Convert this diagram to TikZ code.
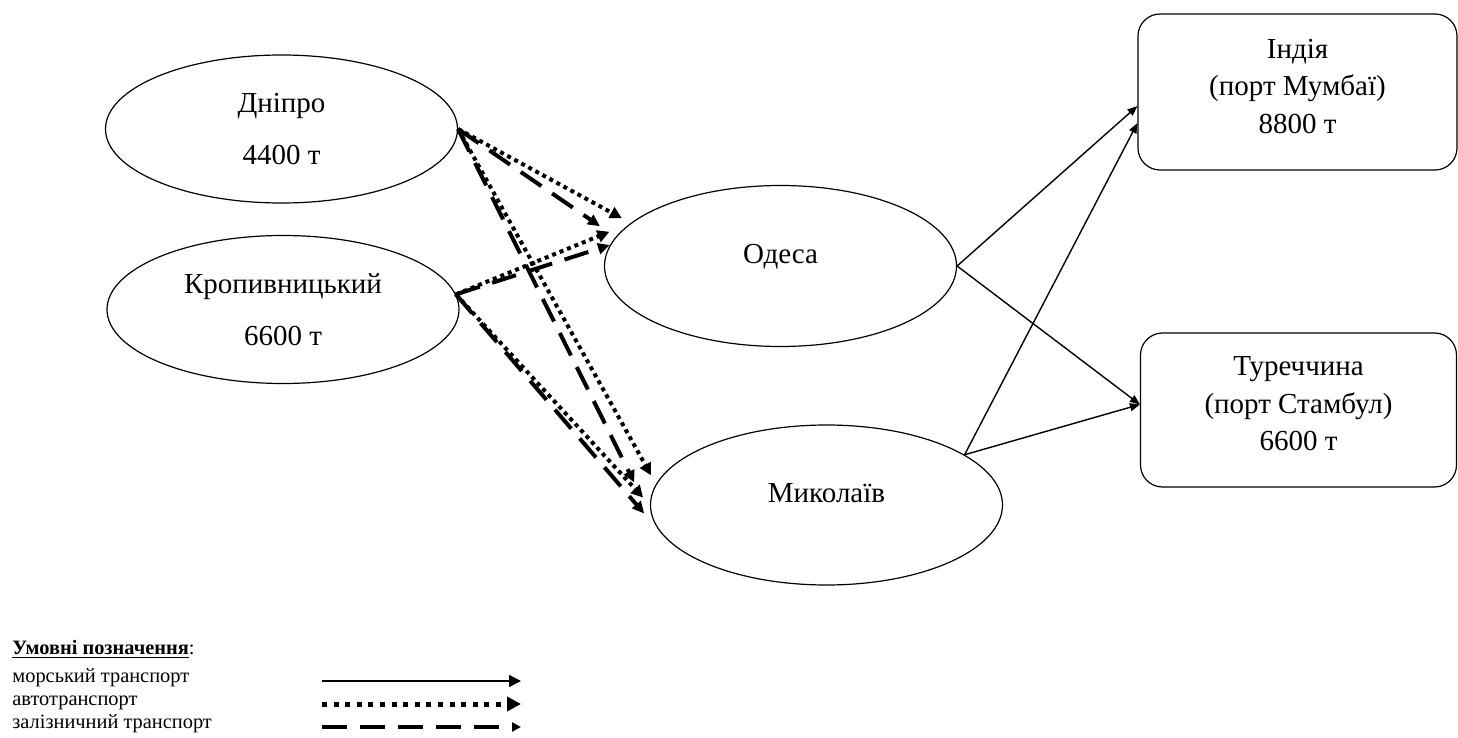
\documentclass[tikz,border=0pt]{standalone}
\usepackage{fontspec}
\setmainfont{Liberation Serif}
\usetikzlibrary{shapes.geometric, arrows.meta}
\tikzstyle{city} = [ellipse, draw=black, line width=0.6pt, minimum width=176pt, minimum height=74pt, align=center, font=\fontsize{14.5}{18.75}\selectfont]
\tikzstyle{port} = [rectangle, rounded corners=11pt, draw=black, line width=0.6pt, minimum width=158pt, minimum height=77pt, align=center, text depth=6pt, font=\fontsize{14.5}{18.75}\selectfont]
\tikzstyle{searoute} = [line width=0.7pt, -{Triangle[length=5pt,width=4pt]}]
\tikzstyle{autoroute} = [line width=2pt, dash pattern=on 2pt off 2pt, -{Triangle[length=6pt,width=6pt]}]
\tikzstyle{railroute} = [line width=2pt, dash pattern=on 12.5pt off 6.5pt, -{Triangle[length=6pt,width=5.5pt]}]
\tikzset{
	legendtext/.style = {anchor=base west, inner sep=0pt, font=\fontsize{10.2}{11.5}\selectfont},
	raised/.style = {text depth=12pt}
}

\begin{document}
\begin{tikzpicture}[x=0.5pt, y=-0.5pt]
\useasboundingbox (0,0) rectangle (1458,738);
%----------------------------------------------------------------------------
% Cities and ports
\node (dnipro) [city] at (281.5,129) {Дніпро\\[7pt]4400 т};
\node (kropyv) [city] at (283,309.5) {Кропивницький\\[7pt]6600 т};

\node (odesa) [city, minimum height=80.5pt, raised] at (780.5,266) {Одеса};
\node (mykolaiv) [city, minimum height=80pt, raised] at (826.5,505) {Миколаїв};

\node (india) [port, minimum width=159.5pt, minimum height=78pt] at (1297.5,92) {Індія\\(порт Мумбаї)\\8800 т};
\node (turkey) [port] at (1298.5,410) {Туреччина\\(порт Стамбул)\\6600 т};

%----------------------------------------------------------------------------
% Road and rail lines
\draw [autoroute, shorten >=5pt] (dnipro.east) -- (odesa.164);
\draw [railroute, shorten >=9.5pt] (dnipro.east) -- (odesa.170);
\draw [autoroute, shorten >=11.5pt] (kropyv.5) -- (odesa.164);
\draw [railroute] (kropyv.5) -- (odesa.173);

\draw [autoroute, shorten >=5pt] (dnipro.east) -- (mykolaiv.173);
\draw [railroute, shorten >=21pt] (dnipro.east) -- (mykolaiv.185);
\draw [autoroute, shorten >=5pt] (kropyv.5) -- (mykolaiv.west);
\draw [railroute, shorten >=13.5pt] (kropyv.5) -- (mykolaiv.190);

%----------------------------------------------------------------------------
% Sea lines
\draw [searoute] (odesa.east) -- (india.185);
\draw [searoute] (odesa.east) -- (turkey.178);
\draw [searoute] (mykolaiv.20) -- (india.191);
\draw [searoute] (mykolaiv.20) -- (turkey.178);

%----------------------------------------------------------------------------
% Legend
\node (legendHead) [legendtext] at (12,654) {\underline{\textbf{Умовні позначення}}:};
\node (legendSea) [legendtext] at (12,682) {морський транспорт};
\node (legendAuto) [legendtext] at (12,705) {автотранспорт};
\node (legendRail) [legendtext] at (12,728) {залізничний транспорт};

\coordinate (seaFrom) at (322,681);
\coordinate (seaTo) at (521,681);
\coordinate (autoFrom) at (322,704);
\coordinate (autoTo) at (521,704);
\coordinate (railFrom) at (322,727);
\coordinate (railTo) at (521,727);

\draw [searoute, -{Triangle[length=6pt,width=6pt]}] (seaFrom) -- (seaTo);
\draw [autoroute, line width=2.5pt, dash pattern=on 2.5pt off 3.3pt, -{Triangle[length=7pt,width=7pt]}] (autoFrom) -- (autoTo);
\draw [railroute, -{Triangle[length=4.5pt,width=4.5pt]}] (railFrom) -- (railTo);

\end{tikzpicture}
\end{document}
